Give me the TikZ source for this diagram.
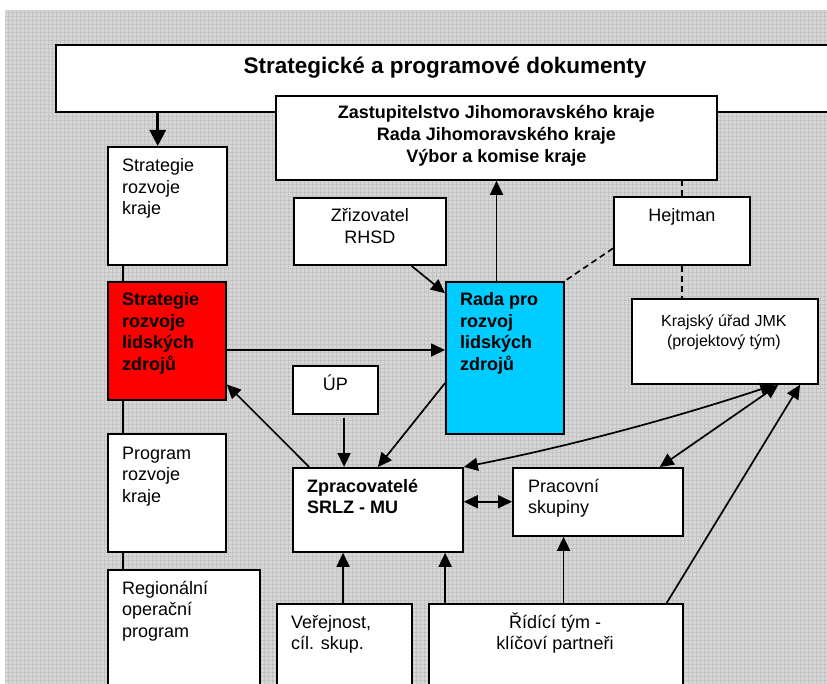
\documentclass[tikz,border=0pt]{standalone}
\usepackage{fontspec}
\setmainfont{Liberation Sans}
\usetikzlibrary{calc,arrows.meta}
\definecolor{bggray}{RGB}{214,214,214}
\definecolor{gridgray}{RGB}{196,196,196}
\definecolor{rlzred}{RGB}{255,0,0}
\definecolor{radacyan}{RGB}{0,204,255}
\begin{document}
\begin{tikzpicture}[x=1pt,y=-1pt,
  boxst/.style={draw=black, line width=1.8pt, fill=white, rectangle, inner sep=0pt, anchor=north west},
  txt/.style={font=\fontsize{18}{21.6}\selectfont, inner sep=0pt, align=left},
  btxt/.style={font=\bfseries\fontsize{18}{21.6}\selectfont, inner sep=0pt, align=left},
  conn/.style={line width=1.7pt, draw=black},
  arr/.style={conn, -{Triangle[length=14pt,width=13pt]}},
  darr/.style={conn, {Triangle[length=14pt,width=13pt]}-{Triangle[length=14pt,width=13pt]}},
  dsh/.style={line width=1.6pt, dash pattern=on 6pt off 4pt}
]
\useasboundingbox (0,0) rectangle (827,684);
\clip (0,0) rectangle (827,684);
\fill[bggray] (5,10) rectangle (827,684);
\draw[gridgray, line width=0.6pt, step=4pt] (5,10) grid (827,684);

% boxes
\node[boxst, minimum width=785pt, minimum height=67pt] (top) at (55,44) {};
\node[boxst, minimum width=441pt, minimum height=84pt] (zast) at (275,95) {};
\node[boxst, minimum width=119pt, minimum height=118pt] (src) at (107,146) {};
\node[boxst, minimum width=152pt, minimum height=67pt] (zriz) at (293,197) {};
\node[boxst, minimum width=136pt, minimum height=68pt] (hejt) at (613,196) {};
\node[boxst, fill=rlzred, minimum width=118pt, minimum height=118pt] (srlz) at (107,281) {};
\node[boxst, fill=radacyan, minimum width=118pt, minimum height=152pt] (rada) at (445,281) {};
\node[boxst, minimum width=186pt, minimum height=85pt] (kraj) at (631,298) {};
\node[boxst, minimum width=85pt, minimum height=48pt] (up) at (292,365) {};
\node[boxst, minimum width=118pt, minimum height=118pt] (prk) at (107,433) {};
\node[boxst, minimum width=170pt, minimum height=84pt] (zpr) at (292,467) {};
\node[boxst, minimum width=170pt, minimum height=68pt] (prac) at (512,467) {};
\node[boxst, minimum width=152pt, minimum height=130pt] (rop) at (107,569) {};
\node[boxst, minimum width=135pt, minimum height=100pt] (ver) at (276,603) {};
\node[boxst, minimum width=254pt, minimum height=100pt] (rid) at (428,603) {};

% texts (anchor base = baseline of the last line)
\node[font=\bfseries\fontsize{22.5}{27}\selectfont, inner sep=0pt, anchor=base] (topT) at ($(top.north west)+(390,30)$) {Strategické a programové dokumenty};
\node[btxt, align=center, font=\bfseries\fontsize{18}{22}\selectfont, anchor=base] (zastT) at ($(zast.north)+(0,68)$) {Zastupitelstvo Jihomoravského kraje\\Rada Jihomoravského kraje\\Výbor a komise kraje};
\node[txt, anchor=base west] (srcT) at ($(src.north west)+(15,68.9)$) {Strategie\\rozvoje\\kraje};
\node[txt, align=center, anchor=base] (zrizT) at ($(zriz.north)+(0,46.3)$) {Zřizovatel\\RHSD};
\node[txt, anchor=base] (hejtT) at ($(hejt.north)+(0,25.7)$) {Hejtman};
\node[btxt, anchor=base west] (srlzT) at ($(srlz.north west)+(15,89.5)$) {Strategie\\rozvoje\\lidských\\zdrojů};
\node[btxt, anchor=base west] (radaT) at ($(rada.north west)+(15,89.5)$) {Rada pro\\rozvoj\\lidských\\zdrojů};
\node[txt, align=center, font=\fontsize{16}{20}\selectfont, anchor=base] (krajT) at ($(kraj.north)+(-1,48.7)$) {Krajský úřad JMK\\(projektový tým)};
\node[txt, anchor=base] (upT) at ($(up.north)+(0,26)$) {ÚP};
\node[txt, anchor=base west] (prkT) at ($(prk.north west)+(15,69.2)$) {Program\\rozvoje\\kraje};
\node[btxt, anchor=base west] (zprT) at ($(zpr.north west)+(15,46.9)$) {Zpracovatelé\\SRLZ - MU};
\node[txt, anchor=base west] (pracT) at ($(prac.north west)+(16,46.6)$) {Pracovní\\skupiny};
\node[txt, anchor=base west] (ropT) at ($(rop.north west)+(15,68.2)$) {Regionální\\operační\\program};
\node[txt, anchor=base west] (verT) at ($(ver.north west)+(15,46.6)$) {Veřejnost,\\cíl. skup.};
\node[txt, align=center, anchor=base] (ridT) at ($(rid.north west)+(127,46.6)$) {Řídící tým -\\klíčoví partneři};

% connector points
\coordinate (a1) at ($(src.north west)!0.42!(src.north east)$);
\coordinate (r1) at ($(rada.north west)!0.43!(rada.north east)$);
\coordinate (z1) at ($(zriz.south west)!0.77!(zriz.south east)$);
\coordinate (r2) at ($(rada.north west)!0.079!(rada.south west)$);
\coordinate (h1) at ($(hejt.north west)!0.75!(hejt.south west)$);
\coordinate (s1) at ($(srlz.north east)!0.576!(srlz.south east)$);
\coordinate (p1) at ($(zpr.north west)!0.1!(zpr.north east)$);
\coordinate (s2) at ($(srlz.north east)!0.864!(srlz.south east)$);
\coordinate (u1) at ($(up.south west)!0.6!(up.south east)$);
\coordinate (r3) at ($(rada.north west)!0.664!(rada.south west)$);
\coordinate (k1) at ($(kraj.south west)!0.763!(kraj.south east)$);
\coordinate (k2) at ($(kraj.south west)!0.785!(kraj.south east)$);
\coordinate (k3) at ($(kraj.south west)!0.9!(kraj.south east)$);
\coordinate (q1) at ($(prac.north west)!0.86!(prac.north east)$);
\coordinate (d1) at ($(rid.north west)!0.933!(rid.north east)$);
\coordinate (e1) at ($(zpr.north east)!0.405!(zpr.south east)$);
\coordinate (v1) at ($(ver.north west)!0.49!(ver.north east)$);
\coordinate (d2) at ($(rid.north west)!0.067!(rid.north east)$);
\coordinate (d3) at ($(rid.north west)!0.53!(rid.north east)$);
\coordinate (l1) at ($(src.south west)!0.134!(src.south east)$);
\coordinate (l2) at ($(srlz.south west)!0.134!(srlz.south east)$);
\coordinate (l3) at ($(prk.south west)!0.134!(prk.south east)$);

% connectors
\draw[line width=3pt, -{Triangle[length=16pt,width=16pt]}] (a1 |- top.south) -- (a1);
\draw[arr] (r1) -- (r1 |- zast.south);
\draw[arr] (z1) -- (r2);
\draw[dsh] (h1) -- (rada.north east);
\draw[dsh] (hejt.north) -- (hejt.north |- zast.south);
\draw[dsh] (hejt.south) -- (hejt.south |- kraj.north);
\draw[arr] (s1) -- (s1 -| rada.west);
\draw[arr] (p1) -- (s2);
\draw[arr] ($(u1)+(0,3)$) -- (u1 |- zpr.north);
\draw[arr] (r3) -- (zpr.north);
\draw[darr] (k1) .. controls ($(k1)!0.33!(zpr.north east)+(0,7)$) and ($(k1)!0.67!(zpr.north east)+(0,7)$) .. (zpr.north east);
\draw[darr] (k2) -- (q1);
\draw[arr] (d1) -- (k3);
\draw[darr] (e1) -- (e1 -| prac.west);
\draw[arr] (v1) -- (v1 |- zpr.south);
\draw[arr] (d2) -- (d2 |- zpr.south);
\draw[arr] (d3) -- (d3 |- prac.south);
\draw[conn] (l1) -- (l1 |- srlz.north);
\draw[conn] (l2) -- (l2 |- prk.north);
\draw[conn] (l3) -- (l3 |- rop.north);
\end{tikzpicture}
\end{document}
